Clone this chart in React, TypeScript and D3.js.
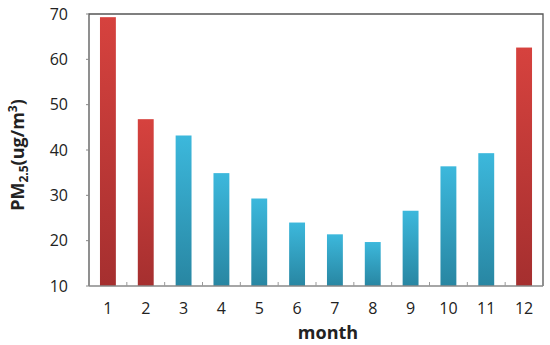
import { useEffect, useRef } from 'react'
import * as d3 from 'd3'

const months = ['1', '2', '3', '4', '5', '6', '7', '8', '9', '10', '11', '12']
const pm25 = [69.3, 46.8, 43.2, 34.9, 29.3, 24.0, 21.4, 19.7, 26.6, 36.4, 39.3, 62.6]
const heating = [true, true, false, false, false, false, false, false, false, false, false, true]
const yTicks = [10, 20, 30, 40, 50, 60, 70]

const M = { top: 14, right: 7, bottom: 59, left: 89 }
const W = 550, H = 345
const FONT = '"Open Sans", "DejaVu Sans", sans-serif'

export default function App() {
  const svgRef = useRef<SVGSVGElement>(null)

  useEffect(() => {
    if (!svgRef.current) return
    const svg = d3.select(svgRef.current)
    svg.selectAll('*').remove()

    const iw = W - M.left - M.right
    const ih = H - M.top - M.bottom

    const defs = svg.append('defs')
    const grad = (id: string, top: string, bot: string) => {
      const g = defs.append('linearGradient').attr('id', id)
        .attr('x1', 0).attr('y1', 0).attr('x2', 0).attr('y2', 1)
      g.append('stop').attr('offset', '0%').attr('stop-color', top)
      g.append('stop').attr('offset', '100%').attr('stop-color', bot)
    }
    grad('gRed', '#d6423e', '#a52f2f')
    grad('gBlue', '#3cb8dc', '#2886a2')

    const g = svg.append('g').attr('transform', `translate(${M.left},${M.top})`)

    const x = d3.scaleBand().domain(months).range([0, iw]).paddingInner(0.58).paddingOuter(0.29)
    const xb = d3.scaleBand().domain(months).range([0, iw])
    const y = d3.scaleLinear().domain([10, 70]).range([ih, 0])

    // bars
    g.selectAll('rect.bar').data(pm25).join('rect')
      .attr('class', 'bar')
      .attr('x', (_, i) => x(months[i])!)
      .attr('y', d => y(d))
      .attr('width', x.bandwidth())
      .attr('height', d => ih - y(d))
      .attr('fill', (_, i) => heating[i] ? 'url(#gRed)' : 'url(#gBlue)')

    // frame
    g.append('path')
      .attr('d', `M0,${ih}V0H${iw}V${ih}`)
      .attr('fill', 'none').attr('stroke', '#555').attr('stroke-width', 1.3)
    g.append('line').attr('x1', 0).attr('x2', iw).attr('y1', ih).attr('y2', ih)
      .attr('stroke', '#888').attr('stroke-width', 1.3)

    // y ticks
    g.selectAll('line.yt').data(yTicks).join('line')
      .attr('class', 'yt')
      .attr('x1', -3).attr('x2', 0)
      .attr('y1', d => y(d)).attr('y2', d => y(d))
      .attr('stroke', '#888')
    g.selectAll('text.yl').data(yTicks).join('text')
      .attr('class', 'yl')
      .attr('x', -21).attr('y', d => y(d)).attr('dy', '0.35em')
      .attr('text-anchor', 'end').attr('font-family', FONT).attr('font-size', 16)
      .attr('fill', '#222')
      .text(d => d)

    // x ticks at category boundaries
    g.selectAll('line.xt').data(months.slice(1)).join('line')
      .attr('class', 'xt')
      .attr('x1', d => xb(d)!).attr('x2', d => xb(d)!)
      .attr('y1', ih).attr('y2', ih - 4)
      .attr('stroke', '#999')
    g.selectAll('text.xl').data(months).join('text')
      .attr('class', 'xl')
      .attr('x', d => xb(d)! + xb.bandwidth() / 2).attr('y', ih + 28)
      .attr('text-anchor', 'middle').attr('font-family', FONT).attr('font-size', 16)
      .attr('fill', '#222')
      .text(d => d)

    // axis titles
    svg.append('text')
      .attr('x', 328).attr('y', 339)
      .attr('text-anchor', 'middle').attr('font-family', FONT).attr('font-size', 18)
      .attr('font-weight', 'bold').attr('fill', '#222')
      .text('month')

    const yl = svg.append('text')
      .attr('transform', 'translate(24,155) rotate(-90)')
      .attr('text-anchor', 'middle').attr('font-family', FONT).attr('font-size', 18)
      .attr('font-weight', 'bold').attr('fill', '#222')
    yl.append('tspan').text('PM')
    yl.append('tspan').attr('font-size', 12).attr('dy', 4).text('2.5')
    yl.append('tspan').attr('dy', -4).text('(ug/m')
    yl.append('tspan').attr('font-size', 12).attr('dy', -7).text('3')
    yl.append('tspan').attr('dy', 7).text(')')
  }, [])

  return (
    <svg ref={svgRef} width={W} height={H}
      style={{ display: 'block', position: 'absolute', left: 0, top: 0, background: '#fff' }} />
  )
}
